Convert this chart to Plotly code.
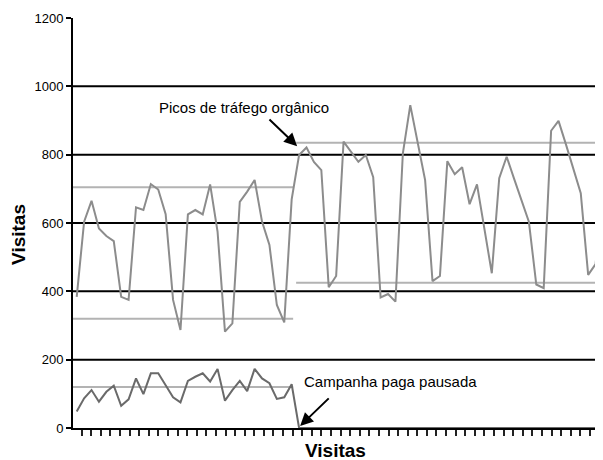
import plotly.graph_objects as go

# ---- data ----
organic_visits = [384, 604, 665, 584, 562, 547, 384, 375, 646, 638,
                  714, 698, 626, 375, 287, 625, 638, 625, 713, 575,
                  282, 306, 662, 692, 726, 604, 536, 360, 309, 669,
                  799, 821, 779, 755, 412, 445, 838, 808, 779, 799,
                  734, 382, 392, 370, 804, 945, 835, 726, 430, 445,
                  781, 743, 763, 655, 713, 585, 453, 731, 794, 730,
                  665, 604, 420, 409, 870, 899, 830, 760, 687, 448,
                  480, 700]
paid_visits = [48, 87, 111, 77, 106, 124, 65, 84, 145, 99,
               160, 160, 125, 90, 75, 138, 150, 160, 136, 173,
               80, 111, 138, 108, 173, 145, 131, 85, 90, 128,
               0, 0, 0, 0, 0, 0, 0, 0, 0, 0,
               0, 0, 0, 0, 0, 0, 0, 0, 0, 0,
               0, 0, 0, 0, 0, 0, 0, 0, 0, 0,
               0, 0, 0, 0, 0, 0, 0, 0, 0, 0,
               0, 0]
days = list(range(len(organic_visits)))

phase1_levels = [705, 320, 120]   # before pause: organic upper/lower, paid mean
phase2_levels = [835, 425]        # after pause: organic upper/lower
grid_levels = [200, 400, 600, 800, 1000]
y_ticks = [0, 200, 400, 600, 800, 1000, 1200]
y_tick_labels = ["0", "200", "400", "600", "800", "1000", "1200"]

FONT = "Liberation Sans, Arial, sans-serif"

X0, X1 = -0.5, 71.0
PHASE1_END = 29.2
PHASE2_START = 29.6

fig = go.Figure()

shapes = []
for g in grid_levels:
    shapes.append(dict(type="line", xref="paper", yref="y", x0=0, x1=1, y0=g, y1=g,
                       line=dict(color="black", width=2), layer="below"))
for lv in phase1_levels:
    shapes.append(dict(type="line", xref="x", yref="y", x0=X0, x1=PHASE1_END, y0=lv, y1=lv,
                       line=dict(color="#b3b3b3", width=2), layer="below"))
for lv in phase2_levels:
    shapes.append(dict(type="line", xref="x", yref="y", x0=PHASE2_START, x1=X1 + 1, y0=lv, y1=lv,
                       line=dict(color="#b3b3b3", width=2), layer="below"))

fig.add_trace(go.Scatter(x=days, y=organic_visits, mode="lines",
                         line=dict(color="#8c8c8c", width=2), showlegend=False))
fig.add_trace(go.Scatter(x=days, y=paid_visits, mode="lines",
                         line=dict(color="#6a6a6a", width=2), showlegend=False))

annotations = [
    dict(x=10.84, y=939, xref="x", yref="y", text="Picos de tráfego orgânico",
         showarrow=False, xanchor="left", yanchor="middle",
         font=dict(family=FONT, size=15, color="black")),
    dict(x=29.74, y=825, ax=25.8, ay=907, xref="x", yref="y", axref="x", ayref="y",
         text="", showarrow=True, arrowhead=2, arrowsize=1.3, arrowwidth=2, arrowcolor="black"),
    dict(x=30.4, y=135, xref="x", yref="y", text="Campanha paga pausada",
         showarrow=False, xanchor="left", yanchor="middle",
         font=dict(family=FONT, size=15, color="black")),
    dict(x=30.14, y=6, ax=34.2, ay=91, xref="x", yref="y", axref="x", ayref="y",
         text="", showarrow=True, arrowhead=2, arrowsize=1.3, arrowwidth=2, arrowcolor="black"),
    dict(x=0.496, y=-0.056, xref="paper", yref="paper", text="<b>Visitas</b>",
         showarrow=False, xanchor="center", yanchor="middle",
         font=dict(family=FONT, size=19, color="black")),
    dict(x=-0.104, y=0.473, xref="paper", yref="paper", text="<b>Visitas</b>",
         showarrow=False, xanchor="center", yanchor="middle", textangle=-90,
         font=dict(family=FONT, size=19, color="black")),
]

# the page body adds an 8px offset, so the figure is sized/margined to compensate
fig.update_layout(
    width=595, height=452,
    margin=dict(l=65, r=0, t=10, b=32, autoexpand=False),
    paper_bgcolor="white", plot_bgcolor="white",
    shapes=shapes, annotations=annotations,
    xaxis=dict(range=[X0, X1], showgrid=False, zeroline=False,
               showline=True, linecolor="black", linewidth=2,
               tickmode="linear", tick0=0.675, dtick=1.2935,
               ticks="outside", ticklen=6, tickwidth=2, tickcolor="#222222",
               showticklabels=False),
    yaxis=dict(range=[0, 1200], showgrid=False, zeroline=False,
               showline=True, linecolor="black", linewidth=2,
               tickmode="array", tickvals=y_ticks, ticktext=y_tick_labels,
               ticks="outside", ticklen=5, tickwidth=2, tickcolor="black",
               tickfont=dict(family=FONT, size=13, color="black")),
)

fig.write_html("out.html")
